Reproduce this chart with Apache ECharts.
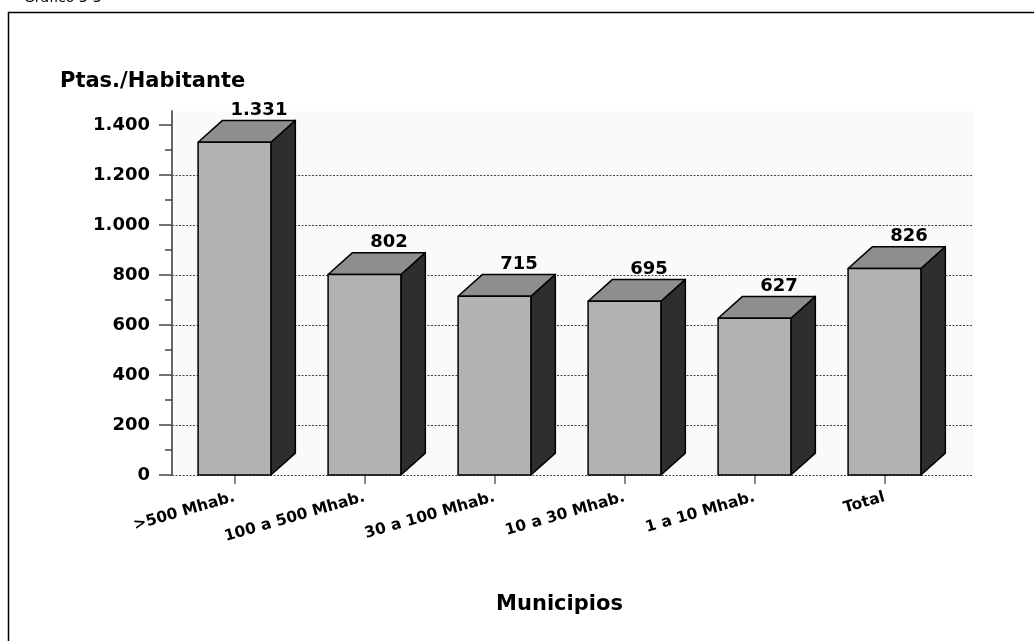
<!DOCTYPE html>
<html>
<head>
<meta charset="utf-8">
<script src="https://cdn.jsdelivr.net/npm/echarts@6/dist/echarts.min.js"></script>
<style>
  html, body { margin: 0; padding: 0; background: #ffffff; }
  #chart { width: 1034px; height: 641px; }
</style>
</head>
<body>
<div id="chart"></div>
<script>
// ---- data ----
const categories = ['>500 Mhab.', '100 a 500 Mhab.', '30 a 100 Mhab.', '10 a 30 Mhab.', '1 a 10 Mhab.', 'Total'];
const values = [1331, 802, 715, 695, 627, 826];
const yTickValues = [0, 200, 400, 600, 800, 1000, 1200, 1400];
const yMinorTickValues = [100, 300, 500, 700, 900, 1100, 1300];
const yAxisTitle = 'Ptas./Habitante';
const xAxisTitle = 'Municipios';
const pageTitle = 'Gráfico 3-3';

// ---- helpers ----
function fmt(v) {
  return String(v).replace(/\B(?=(\d{3})+(?!\d))/g, '.');
}

const FONT = 'DejaVu Sans';
const Y_MAX = 1456;

const chart = echarts.init(document.getElementById('chart'), null, { renderer: 'canvas' });

const option = {
  backgroundColor: '#ffffff',
  animation: false,
  title: {
    text: yAxisTitle,
    left: 60,
    top: 71,
    padding: 0,
    textStyle: { fontFamily: FONT, fontSize: 21, fontWeight: 'bold', color: '#000' }
  },
  graphic: [
    {
      type: 'rect',
      shape: { x: 8.5, y: 12.5, width: 1200, height: 800 },
      style: { fill: 'none', stroke: '#000', lineWidth: 1.5 },
      silent: true
    },
    {
      type: 'text',
      style: {
        x: 24, y: -2, text: pageTitle,
        font: 'normal 14px "' + FONT + '"',
        fill: '#000', textVerticalAlign: 'middle'
      },
      silent: true
    }
  ],
  grid: [
    { left: 172, right: 61, top: 111, bottom: 166, show: true, backgroundColor: '#fafafa', borderWidth: 0 },
    { left: 169.5, right: 84.5, top: 111, bottom: 166, show: false }
  ],
  xAxis: [
    { type: 'value', gridIndex: 0, min: 0, max: 1, show: false },
    {
      type: 'category', gridIndex: 1, data: categories,
      axisLine: { show: false },
      axisTick: { show: true, alignWithLabel: true, length: 9, lineStyle: { color: '#888', width: 2 } },
      axisLabel: {
        rotate: 16, margin: 22, interval: 0,
        fontFamily: FONT, fontSize: 15.5, fontWeight: 'bold', color: '#000'
      },
      splitLine: { show: false },
      name: xAxisTitle, nameLocation: 'middle', nameGap: 119,
      nameTextStyle: { fontFamily: FONT, fontSize: 21, fontWeight: 'bold', color: '#000' }
    }
  ],
  yAxis: [
    {
      type: 'value', gridIndex: 0, position: 'left', min: 0, max: Y_MAX, interval: 200,
      axisLine: { show: true, lineStyle: { color: '#666', width: 2 } },
      axisTick: { show: true, customValues: yTickValues, length: 13, lineStyle: { color: '#444', width: 1.5 } },
      axisLabel: {
        customValues: yTickValues, margin: 22, formatter: fmt,
        fontFamily: FONT, fontSize: 18, fontWeight: 'bold', color: '#000'
      },
      splitLine: { show: true, showMaxLine: false, lineStyle: { color: '#444', width: 1, type: [2, 1.5] } }
    },
    {
      type: 'value', gridIndex: 0, position: 'left', offset: 0, min: 0, max: Y_MAX, interval: 200,
      axisLine: { show: false },
      axisTick: { show: true, customValues: yMinorTickValues, length: 7, lineStyle: { color: '#444', width: 1.5 } },
      axisLabel: { show: false },
      splitLine: { show: false }
    },
    { type: 'value', gridIndex: 1, min: 0, max: Y_MAX, show: false, splitLine: { show: false } }
  ],
  series: [
    {
      type: 'custom',
      xAxisIndex: 1,
      yAxisIndex: 2,
      data: values.map((v, i) => [i, v]),
      renderItem: function (params, api) {
        const idx = api.value(0);
        const val = api.value(1);
        const base = api.coord([idx, 0]);
        const top = api.coord([idx, val]);
        const band = api.size([1, 0])[0];
        const bw = band * 0.56;
        const dx = band * 0.188;
        const dy = band * 0.168;
        const L = base[0] - bw / 2;
        const R = base[0] + bw / 2;
        const yb = base[1];
        const yt = top[1];
        const stroke = { stroke: '#000', lineWidth: 1.5, lineJoin: 'round' };
        return {
          type: 'group',
          children: [
            {
              type: 'polygon',
              shape: { points: [[R, yt], [R + dx, yt - dy], [R + dx, yb - dy], [R, yb]] },
              style: Object.assign({ fill: '#2e2e2e' }, stroke)
            },
            {
              type: 'polygon',
              shape: { points: [[L, yt], [L + dx, yt - dy], [R + dx, yt - dy], [R, yt]] },
              style: Object.assign({ fill: '#8e8e8e' }, stroke)
            },
            {
              type: 'rect',
              shape: { x: L, y: yt, width: bw, height: yb - yt },
              style: Object.assign({ fill: '#b2b2b2' }, stroke)
            },
            {
              type: 'text',
              style: {
                x: base[0] + dx, y: yt - dy - 1,
                text: fmt(val),
                font: 'bold 18px "' + FONT + '"',
                fill: '#000',
                textAlign: 'center', textVerticalAlign: 'bottom'
              }
            }
          ]
        };
      }
    }
  ]
};

chart.setOption(option);
</script>
</body>
</html>
